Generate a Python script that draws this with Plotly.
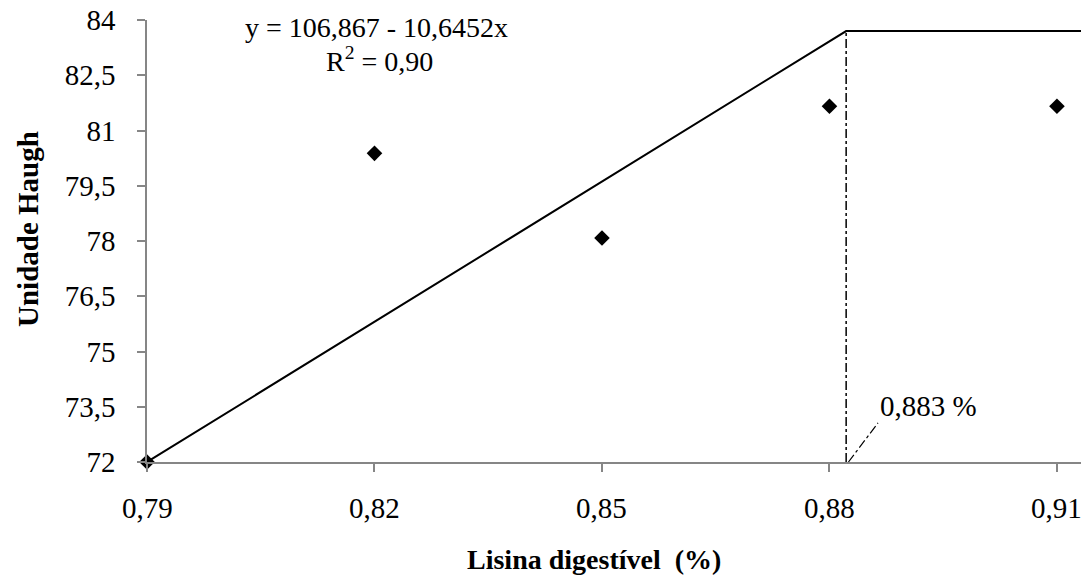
import plotly.graph_objects as go

# observed data
lys = [0.79, 0.82, 0.85, 0.88, 0.91]
haugh = [72.0, 80.38, 78.08, 81.66, 81.66]

# broken-line fit as drawn
fit_x = [0.79, 0.8822, 0.9132]
fit_y = [72.0, 83.7, 83.7]
break_x = 0.8822
plateau = 83.7

y_ticks = [72, 73.5, 75, 76.5, 78, 79.5, 81, 82.5, 84]
y_tick_text = ["72", "73,5", "75", "76,5", "78", "79,5", "81", "82,5", "84"]
x_ticks = [0.79, 0.82, 0.85, 0.88, 0.91]
x_tick_text = ["0,79", "0,82", "0,85", "0,88", "0,91"]

FONT = "Liberation Serif, Times New Roman, serif"
FS = 29

fig = go.Figure()
fig.add_trace(go.Scatter(x=fit_x, y=fit_y, mode="lines",
                         line=dict(color="black", width=2), showlegend=False,
                         cliponaxis=False))
fig.add_trace(go.Scatter(x=[break_x, break_x], y=[72, plateau], mode="lines",
                         line=dict(color="black", width=1.5, dash="dashdot"),
                         showlegend=False))
fig.add_trace(go.Scatter(x=[break_x + 0.0003, 0.8864], y=[72, 73.06], mode="lines",
                         line=dict(color="black", width=1.2, dash="dashdot"),
                         showlegend=False))
fig.add_trace(go.Scatter(x=lys, y=haugh, mode="markers",
                         marker=dict(symbol="diamond", size=12, color="black"),
                         showlegend=False, cliponaxis=False))

fig.add_annotation(x=0.8202, y=83.79, text="y = 106,867 - 10,6452x", showarrow=False,
                   xanchor="center", yanchor="middle", font=dict(family=FONT, size=28, color="black"))
fig.add_annotation(x=0.8206, y=82.93, text="R<sup>2</sup> = 0,90", showarrow=False,
                   xanchor="center", yanchor="middle", font=dict(family=FONT, size=28, color="black"))
fig.add_annotation(x=0.8864, y=73.53, text="0,883 %", showarrow=False,
                   xanchor="left", yanchor="middle", font=dict(family=FONT, size=FS, color="black"))

# x tick labels (drawn as annotations so the last one may run to the edge)
for tv, tt in zip(x_ticks, x_tick_text):
    fig.add_annotation(x=tv, xref="x", yref="paper", y=(462 - 508) / 442, text=tt,
                       showarrow=False, xanchor="center", yanchor="middle",
                       font=dict(family=FONT, size=FS, color="black"))

# axis titles
fig.add_annotation(xref="paper", yref="paper", x=(594 - 147) / 934, y=(462 - 559) / 442,
                   text="<b>Lisina digestível  (%)</b>", showarrow=False,
                   xanchor="center", yanchor="middle", font=dict(family=FONT, size=28, color="black"))
fig.add_annotation(xref="paper", yref="paper", x=(28 - 147) / 934, y=(462 - 229) / 442,
                   text="<b>Unidade Haugh</b>", showarrow=False, textangle=-90,
                   xanchor="center", yanchor="middle", font=dict(family=FONT, size=FS, color="black"))

fig.update_layout(
    width=1081, height=575,
    margin=dict(l=147, r=0, t=20, b=113),
    paper_bgcolor="white", plot_bgcolor="white",
    font=dict(family=FONT, size=FS, color="black"),
    xaxis=dict(range=[0.79, 0.91317], tickvals=x_ticks, showticklabels=False,
               showgrid=False, zeroline=False, showline=True, linecolor="#868686", linewidth=1.5,
               ticks="outside", ticklen=8, tickcolor="#868686", tickwidth=1.5),
    yaxis=dict(range=[72, 84], tickvals=y_ticks, ticktext=y_tick_text,
               showgrid=False, zeroline=False, showline=True, linecolor="#868686", linewidth=1.5,
               ticks="outside", ticklen=8, tickcolor="#868686", tickwidth=1.5,
               ticklabelstandoff=16,
               tickfont=dict(family=FONT, size=FS, color="black")),
)

fig.write_html("out.html")
